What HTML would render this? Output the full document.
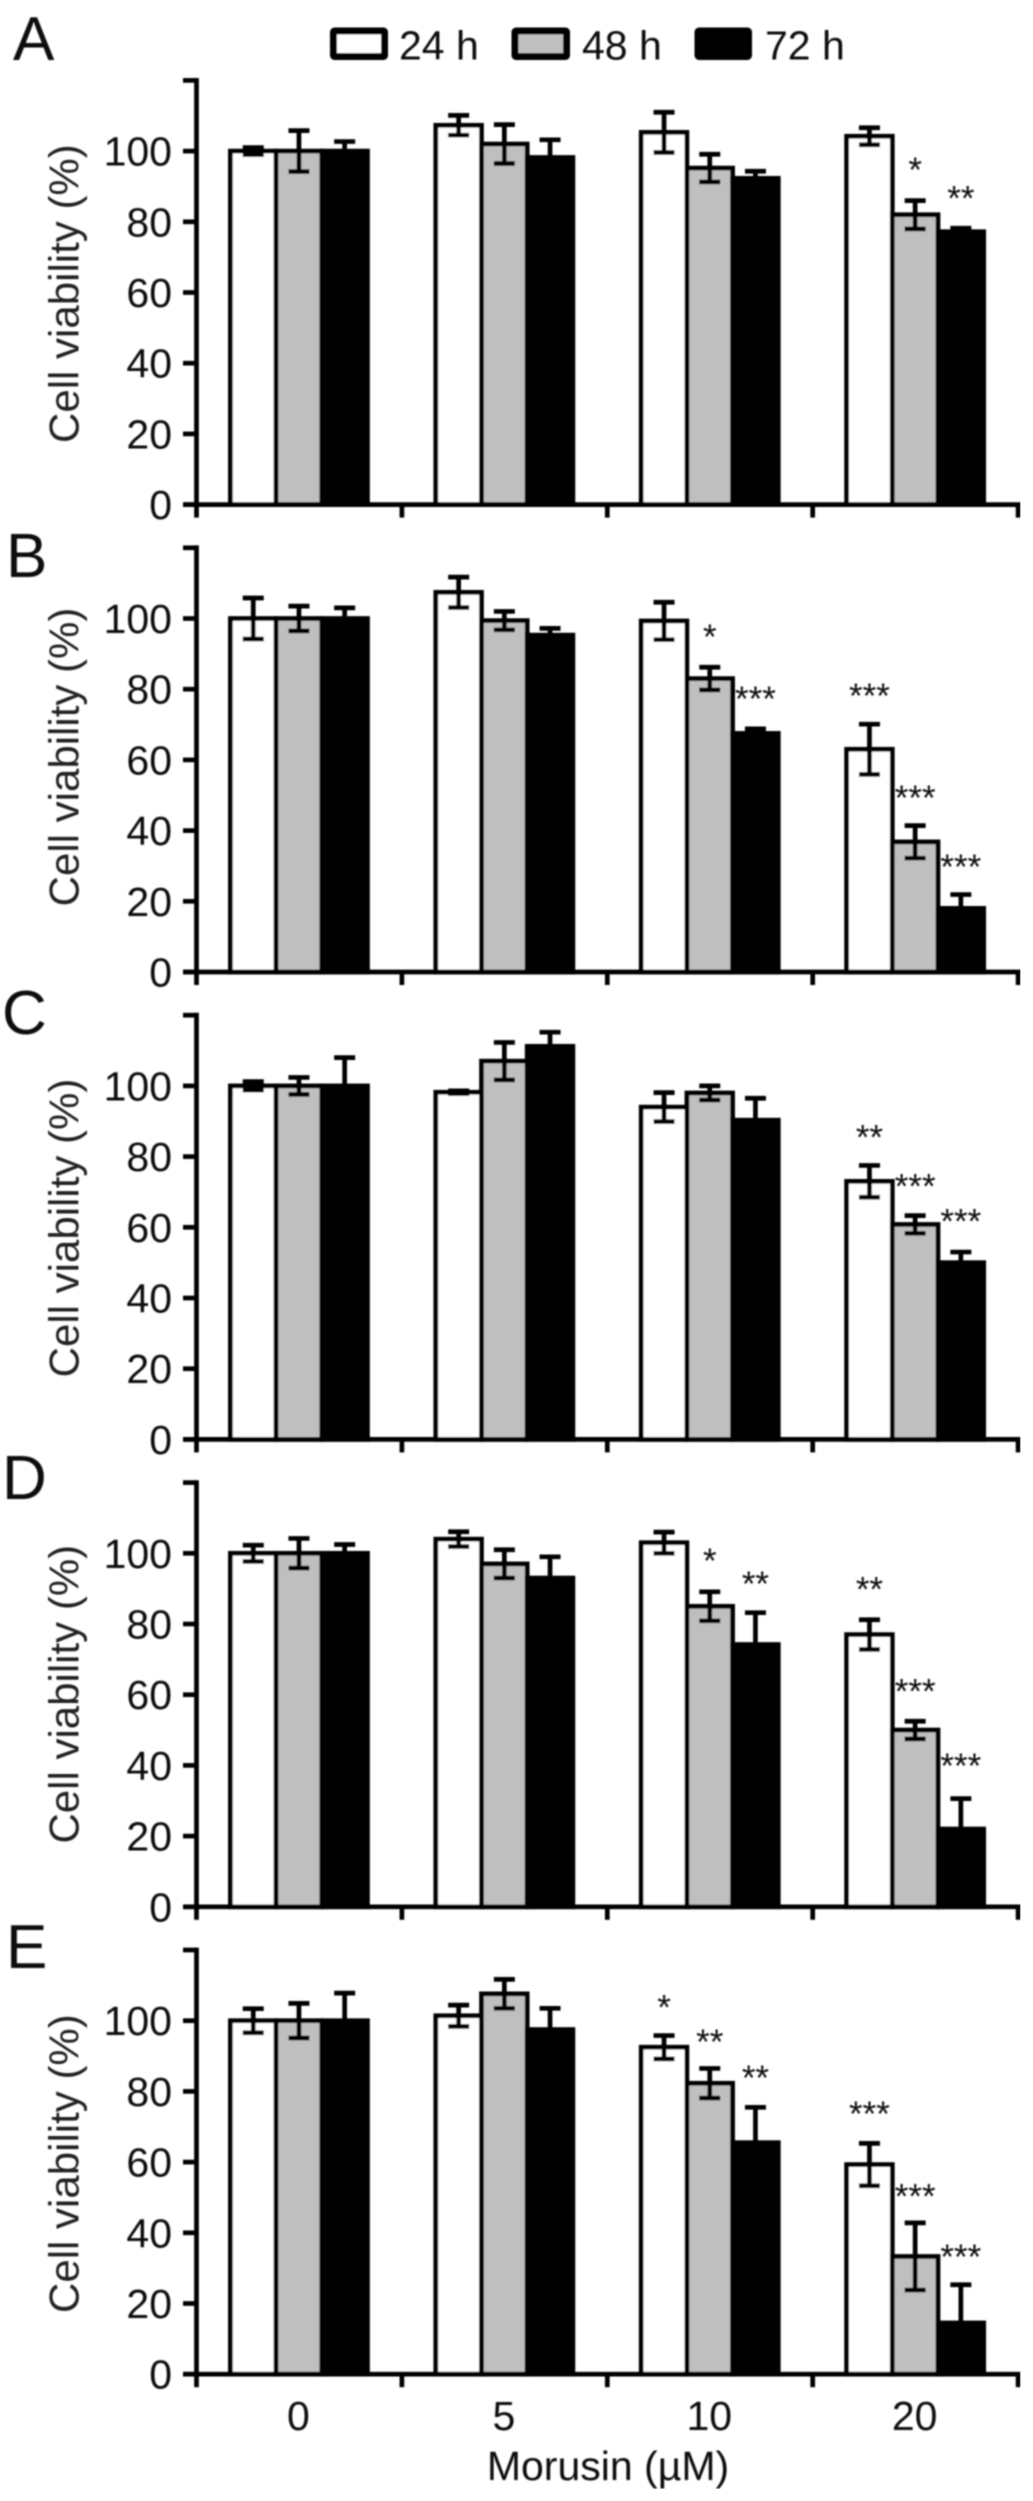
<!DOCTYPE html>
<html lang="en">
<head>
<meta charset="utf-8">
<title>Cell viability after Morusin treatment</title>
<style>
html,body{margin:0;padding:0;background:#fff;width:1033px;height:2501px;overflow:hidden}
svg{display:block;font-family:"Liberation Sans",Arial,sans-serif}
</style>
</head>
<body>
<svg id="figure" xmlns="http://www.w3.org/2000/svg" width="1033" height="2501" viewBox="0 0 1033 2501">
  <defs>
    <filter id="soft" x="0" y="0" width="100%" height="100%"><feGaussianBlur stdDeviation="0.7"/></filter>
  </defs>
  <rect x="0" y="0" width="1033" height="2501" fill="#fff"/>
  <g id="root" filter="url(#soft)">
    <g>
      <rect x="333.5" y="31" width="51" height="25.5" fill="#fff" stroke="#000" stroke-width="7" rx="1"/>
      <text x="399" y="59.5" font-size="41" fill="#111">24 h</text>
      <rect x="515" y="31" width="51.5" height="25.5" fill="#bfbfbf" stroke="#000" stroke-width="7" rx="1"/>
      <text x="582" y="59.5" font-size="41" fill="#111">48 h</text>
      <rect x="698" y="31" width="50.5" height="25.5" fill="#000" stroke="#000" stroke-width="7" rx="1"/>
      <text x="765" y="59.5" font-size="41" fill="#111">72 h</text>
    </g>
    <text x="608" y="2480" font-size="41" text-anchor="middle" fill="#111">Morusin (µM)</text>
  </g>
</svg>
<script>
const categories = ['0', '5', '10', '20'];
const seriesNames = ['24h', '48h', '72h'];
const seriesFills = ['#fff', '#bfbfbf', '#000'];
const yTicks = [0, 20, 40, 60, 80, 100, 120];
const yTickLabels = ['0', '20', '40', '60', '80', '100', ''];

const valuesA24 = [100, 107.3, 105.3, 104.2];
const valuesA48 = [100, 102, 95.2, 82];
const valuesA72 = [100, 98.2, 92.3, 77.2];
const errorsA24 = [1, 2.8, 5.7, 2.4];
const errorsA48 = [5.8, 5.5, 3.9, 4];
const errorsA72 = [2.7, 5, 2, 1];
const starsA = [
  {group: 3, series: 1, mark: '*', at: 96},
  {group: 3, series: 2, mark: '**', at: 88}
];

const valuesB24 = [100, 107.4, 99.3, 63];
const valuesB48 = [100, 99.4, 83, 36.8];
const valuesB72 = [100, 95.3, 67.5, 18];
const errorsB24 = [5.8, 4.3, 5.3, 7.1];
const errorsB48 = [3.5, 2.6, 3.2, 4.6];
const errorsB72 = [3, 1.9, 1.3, 3.9];
const starsB = [
  {group: 2, series: 1, mark: '*', at: 96.2},
  {group: 2, series: 2, mark: '***', at: 78.7},
  {group: 3, series: 0, mark: '***', at: 79.5},
  {group: 3, series: 1, mark: '***', at: 50.6},
  {group: 3, series: 2, mark: '***', at: 31.1}
];

const valuesC24 = [100, 98.2, 94, 73];
const valuesC48 = [100, 107, 98, 60.8];
const valuesC72 = [100, 111.2, 90.3, 50];
const errorsC24 = [1.2, 0.4, 4.1, 4.5];
const errorsC48 = [2.4, 5.3, 2, 2.5];
const errorsC72 = [8, 4, 6.2, 3];
const starsC = [
  {group: 3, series: 0, mark: '**', at: 86.8},
  {group: 3, series: 1, mark: '***', at: 72.9},
  {group: 3, series: 2, mark: '***', at: 63}
];

const valuesD24 = [100, 104, 103, 77];
const valuesD48 = [100, 97, 85, 50];
const valuesD72 = [100, 93, 74.2, 22];
const errorsD24 = [2.3, 2.1, 3, 4.2];
const errorsD48 = [4.2, 4, 4.1, 2.5];
const errorsD72 = [2.5, 6, 9, 8.6];
const starsD = [
  {group: 2, series: 1, mark: '*', at: 99.2},
  {group: 2, series: 2, mark: '**', at: 92.7},
  {group: 3, series: 0, mark: '**', at: 91.2},
  {group: 3, series: 1, mark: '***', at: 62.3},
  {group: 3, series: 2, mark: '***', at: 41.2}
];

const valuesE24 = [100, 101.4, 92.5, 59.3];
const valuesE48 = [100, 107.6, 82.3, 33.3];
const valuesE72 = [100, 97.5, 65.5, 14.5];
const errorsE24 = [3.4, 3, 3.3, 6];
const errorsE48 = [4.9, 4.1, 4.2, 9.5];
const errorsE72 = [7.8, 6, 10, 10.8];
const starsE = [
  {group: 2, series: 0, mark: '*', at: 105.1},
  {group: 2, series: 1, mark: '**', at: 95.4},
  {group: 2, series: 2, mark: '**', at: 85.2},
  {group: 3, series: 0, mark: '***', at: 75},
  {group: 3, series: 1, mark: '***', at: 51.7},
  {group: 3, series: 2, mark: '***', at: 34.6}
];

const panels = [
  {letter: 'A', values: [valuesA24, valuesA48, valuesA72], errors: [errorsA24, errorsA48, errorsA72], stars: starsA},
  {letter: 'B', values: [valuesB24, valuesB48, valuesB72], errors: [errorsB24, errorsB48, errorsB72], stars: starsB},
  {letter: 'C', values: [valuesC24, valuesC48, valuesC72], errors: [errorsC24, errorsC48, errorsC72], stars: starsC},
  {letter: 'D', values: [valuesD24, valuesD48, valuesD72], errors: [errorsD24, errorsD48, errorsD72], stars: starsD},
  {letter: 'E', values: [valuesE24, valuesE48, valuesE72], errors: [errorsE24, errorsE48, errorsE72], stars: starsE}
];

const NS = 'http://www.w3.org/2000/svg';
const root = document.getElementById('root');
const FIRST_ZERO = 504.6, PANEL_STEP = 467.4, UNIT = 3.535;
const AXIS_X = 196.5, GROUP_STEP = 205.4, GROUP_OFFSET = 33.9, BAR_W = 45.7;
const STROKE = 4.7;
const LETTER_BASE = [60, 577, 1034, 1499, 1968];
const LETTER_X = [13, 6, 2, 2, 6];
const TITLE_LIFT = [211, 215, 211.4, 212.6, 210.6];

function yScale(panelIndex, v) { return FIRST_ZERO + PANEL_STEP * panelIndex - v * UNIT; }
function groupTickX(i) { return AXIS_X + GROUP_STEP * i; }
function barX(g, s) { return groupTickX(g) + GROUP_OFFSET + s * BAR_W; }
function svgEl(tag, parent) {
  const node = document.createElementNS(NS, tag);
  parent.appendChild(node);
  return node;
}
function setAll(node, props) {
  for (const k in props) node.setAttribute(k, props[k]);
}

panels.forEach(function (p, pi) {
  const key = p.letter.toLowerCase();
  const zero = yScale(pi, 0);

  const panel = svgEl('g', root);
  
  

  const letter = svgEl('text', panel);
  
  
  setAll(letter, {x: LETTER_X[pi], y: LETTER_BASE[pi], 'font-size': 62, fill: '#111'});
  letter.textContent = p.letter;

  const title = svgEl('text', panel);
  
  
  const titleY = zero - TITLE_LIFT[pi];
  setAll(title, {x: 0, y: 0, 'font-size': 42, 'text-anchor': 'middle', fill: '#222', transform: 'translate(78.5 ' + titleY + ') rotate(-90)'});
  title.textContent = 'Cell viability (%)';

  // bars
  p.values.forEach(function (vals, s) {
    vals.forEach(function (v, g) {
      const bar = svgEl('rect', panel);
      
      
      const top = yScale(pi, v);
      setAll(bar, {x: barX(g, s), y: top, width: BAR_W, height: zero - top, fill: seriesFills[s], stroke: '#000', 'stroke-width': STROKE});
    });
  });

  // error bars (drawn over bars; the 72 h series only shows its upper half)
  p.errors.forEach(function (errs, s) {
    errs.forEach(function (e, g) {
      const v = p.values[s][g];
      const cx = barX(g, s) + BAR_W / 2;
      const hi = yScale(pi, v + e);
      const lo = yScale(pi, v - e);
      const err = svgEl('path', panel);
      
      
      let d = 'M' + (cx - 10.5) + ' ' + hi + 'H' + (cx + 10.5) + 'M' + cx + ' ' + hi + 'V' + (s === 2 ? yScale(pi, v) : lo);
      if (s !== 2) d += 'M' + (cx - 10.5) + ' ' + lo + 'H' + (cx + 10.5);
      setAll(err, {d: d, fill: 'none', stroke: '#000', 'stroke-width': STROKE});
    });
  });

  // significance marks
  p.stars.forEach(function (st) {
    const star = svgEl('text', panel);
    
    
    setAll(star, {x: barX(st.group, st.series) + BAR_W / 2, y: yScale(pi, st.at) + 17, 'font-size': 35, 'text-anchor': 'middle', fill: '#111'});
    star.textContent = st.mark;
  });

  // y axis
  const yAxis = svgEl('path', panel);
  
  
  setAll(yAxis, {d: 'M' + AXIS_X + ' ' + (yScale(pi, 120) - 2.4) + 'V' + zero, fill: 'none', stroke: '#000', 'stroke-width': STROKE});

  yTicks.forEach(function (t, i) {
    const tick = svgEl('path', panel);
    
    
    const ty = yScale(pi, t);
    setAll(tick, {d: 'M183 ' + ty + 'H' + AXIS_X, fill: 'none', stroke: '#000', 'stroke-width': STROKE});
    if (yTickLabels[i]) {
      const lab = svgEl('text', panel);
      
      
      setAll(lab, {x: 172, y: ty + 14.5, 'font-size': 41, 'text-anchor': 'end', fill: '#111'});
      lab.textContent = yTickLabels[i];
    }
  });

  // x axis
  const xAxis = svgEl('path', panel);
  
  
  setAll(xAxis, {d: 'M183 ' + zero + 'H' + (groupTickX(4) + 2.4), fill: 'none', stroke: '#000', 'stroke-width': STROKE});

  for (let i = 0; i <= categories.length; i++) {
    const xt = svgEl('path', panel);
    
    
    setAll(xt, {d: 'M' + groupTickX(i) + ' ' + zero + 'V' + (zero + 13), fill: 'none', stroke: '#000', 'stroke-width': STROKE});
  }

  if (pi === panels.length - 1) {
    categories.forEach(function (c, g) {
      const xl = svgEl('text', panel);
      
      
      setAll(xl, {x: barX(g, 1) + BAR_W / 2 - 0.5, y: zero + 56, 'font-size': 41, 'text-anchor': 'middle', fill: '#111'});
      xl.textContent = c;
    });
  }
});
</script>
</body>
</html>
